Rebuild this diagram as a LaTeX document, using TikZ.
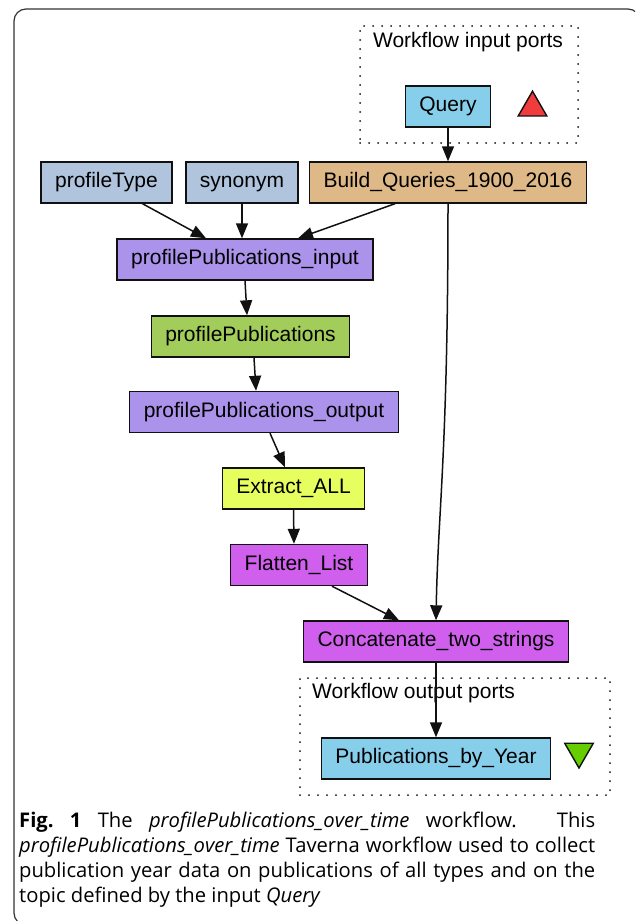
\documentclass[tikz,border=0pt]{standalone}
\usepackage{fontspec}
\setmainfont{Liberation Sans}
\newfontfamily\capfont{Open Sans}
\usepackage{tikz}
\usetikzlibrary{arrows.meta,positioning,shapes.geometric}
\definecolor{ink}{HTML}{111111}
\definecolor{frame}{HTML}{333333}
\definecolor{inputc}{HTML}{B0C4DE}
\definecolor{buildc}{HTML}{DEB887}
\definecolor{splitc}{HTML}{AB92EA}
\definecolor{wsdlc}{HTML}{A2CD5A}
\definecolor{xpathc}{HTML}{E6FF5E}
\definecolor{beanc}{HTML}{D15FEE}
\definecolor{portc}{HTML}{87CEEB}
\definecolor{upc}{HTML}{F03C3C}
\definecolor{downc}{HTML}{66CD00}
\newcommand\nodefont{\fontsize{21}{24}\selectfont}
\newcommand\capsize{\capfont\fontsize{20.2}{24.8}\selectfont}
\hfuzz=20pt
\tikzset{
  proc/.style={draw=ink,line width=1.4pt,font=\nodefont,inner xsep=14pt,inner ysep=0pt,
    minimum height=41pt,text height=15pt,text depth=4.5pt},
  port/.style={proc,fill=portc},
  cluster/.style={draw=ink,line width=2pt,line cap=round,dash pattern=on 0pt off 9pt,inner sep=0pt},
  tri/.style={draw=ink,line width=1.4pt,regular polygon,regular polygon sides=3,minimum size=33pt,inner sep=0pt},
  flow/.style={-{Triangle[length=15pt,width=12pt]},line width=1.5pt,draw=ink},
  lbl/.style={font=\nodefont,inner sep=0pt}
}
\begin{document}
\begin{tikzpicture}[x=1pt,y=-1pt]
  \clip (0,0) rectangle (635,921);
  \draw[frame,line width=1.2pt,rounded corners=12pt] (14,9) rectangle (640,925);
  % workflow input ports
  \node[cluster,minimum width=218pt,minimum height=117pt] (inbox) at (469,84.5) {};
  \node[lbl] (inlbl) at (468,42) {Workflow input ports};
  \node[port] (query) at (448,106.5) {Query};
  \node[tri,fill=upc] (up) at (532.5,107.7) {};
  % processors
  \node[proc,fill=inputc] (ptype) at (106.5,182.5) {profileType};
  \node[proc,fill=inputc] (syn) at (242,182.5) {synonym};
  \node[proc,fill=buildc] (build) at (448,182.5) {Build\_Queries\_1900\_2016};
  \node[proc,fill=splitc] (pin) at (245,259.5) {profilePublications\_input};
  \node[proc,fill=wsdlc] (pp) at (250.5,336.5) {profilePublications};
  \node[proc,fill=splitc] (pout) at (264,412) {profilePublications\_output};
  \node[proc,fill=xpathc] (extract) at (293.5,488.5) {Extract\_ALL};
  \node[proc,fill=beanc] (flatten) at (299,565) {Flatten\_List};
  \node[proc,fill=beanc] (concat) at (436,641.5) {Concatenate\_two\_strings};
  % workflow output ports
  \node[cluster,minimum width=310pt,minimum height=117pt] (outbox) at (455,736.5) {};
  \node[lbl,anchor=west] (outlbl) at (312,693) {Workflow output ports};
  \node[port] (pubs) at (436,758.5) {Publications\_by\_Year};
  \node[tri,fill=downc,rotate=180] (down) at (579,751.5) {};
  % links
  \draw[flow] (query) -- (build);
  \draw[flow] ([xshift=36pt]ptype.south) -- ([xshift=-39pt]pin.north);
  \draw[flow] (syn.south) -- (syn.south |- pin.north);
  \draw[flow] ([xshift=-53pt]build.south) -- ([xshift=53pt]pin.north);
  \draw[flow] (build.south) .. controls +(0,250) and +(2,-110) .. (concat.north);
  \draw[flow] (pin.south) -- ([xshift=-3.5pt]pp.north);
  \draw[flow] ([xshift=3.5pt]pp.south) -- ([xshift=-8pt]pout.north);
  \draw[flow] ([xshift=6pt]pout.south) -- ([xshift=-8.5pt]extract.north);
  \draw[flow] (extract.south) -- ([xshift=-5pt]flatten.north);
  \draw[flow] ([xshift=33pt]flatten.south) -- ([xshift=-37pt]concat.north);
  \draw[flow] (concat) -- (pubs);
  % caption
  \node[anchor=north west,inner sep=0pt,text width=576pt,align=justify,font=\capsize] (caption) at (19,812)
    {\textbf{Fig.~1} The \textit{profilePublications\_over\_time} workflow. This\linebreak
     \textit{profilePublications\_over\_time} Taverna workflow used to collect\linebreak
     publication year data on publications of all types and on the\linebreak
     topic defined by the input \textit{Query}};
\end{tikzpicture}
\end{document}
